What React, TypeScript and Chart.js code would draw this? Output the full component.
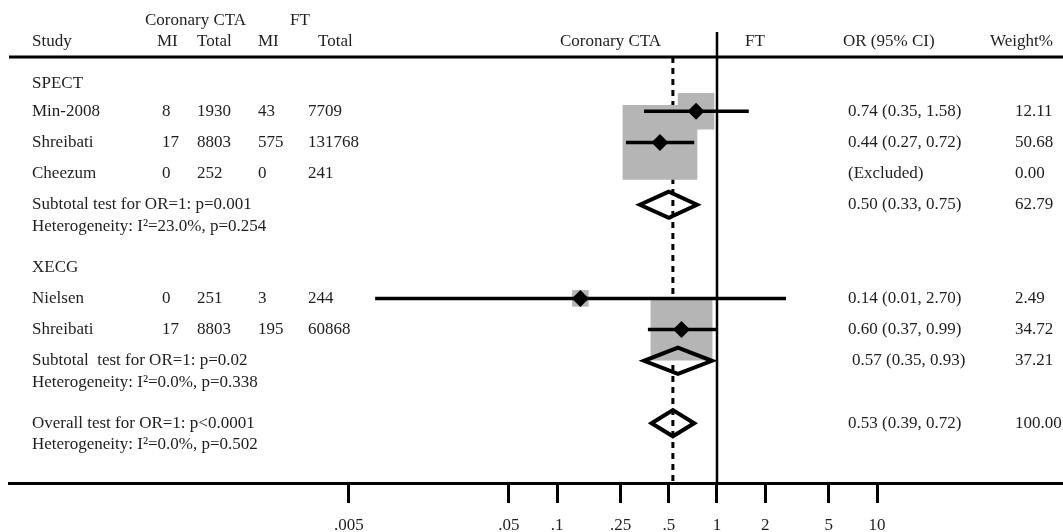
import React, { useEffect, useRef } from "react";
import { Chart, registerables } from "chart.js";

Chart.register(...registerables);

// ---------------- data ----------------
const groupNames = ["SPECT", "XECG"];
const studyNames = ["Min-2008", "Shreibati", "Cheezum", "Nielsen", "Shreibati"];
const cctaMI = [8, 17, 0, 0, 17];
const cctaTotal = [1930, 8803, 252, 251, 8803];
const ftMI = [43, 575, 0, 3, 195];
const ftTotal = [7709, 131768, 241, 244, 60868];
const studyOR: (number | null)[] = [0.74, 0.44, null, 0.14, 0.6];
const studyLow: (number | null)[] = [0.35, 0.27, null, 0.0073, 0.37];
const studyHigh: (number | null)[] = [1.58, 0.72, null, 2.7, 0.99];
const studyLabels = ["0.74 (0.35, 1.58)", "0.44 (0.27, 0.72)", "(Excluded)", "0.14 (0.01, 2.70)", "0.60 (0.37, 0.99)"];
const studyWeights = [12.11, 50.68, 0, 2.49, 34.72];
const studyWeightLabels = ["12.11", "50.68", "0.00", "2.49", "34.72"];

const summaryNames = ["Subtotal test for OR=1: p=0.001", "Subtotal  test for OR=1: p=0.02", "Overall test for OR=1: p<0.0001"];
const heterogeneity = ["Heterogeneity: I\u00B2=23.0%, p=0.254", "Heterogeneity: I\u00B2=0.0%, p=0.338", "Heterogeneity: I\u00B2=0.0%, p=0.502"];
const summaryOR = [0.5, 0.57, 0.53];
const summaryLow = [0.33, 0.35, 0.39];
const summaryHigh = [0.75, 0.93, 0.72];
const summaryLabels = ["0.50 (0.33, 0.75)", "0.57 (0.35, 0.93)", "0.53 (0.39, 0.72)"];
const summaryWeightLabels = ["62.79", "37.21", "100.00"];

const tickValues = [0.005, 0.05, 0.1, 0.25, 0.5, 1, 2, 5, 10];
const tickLabels = [".005", ".05", ".1", ".25", ".5", "1", "2", "5", "10"];

// ---------------- layout ----------------
const W = 1063;
const H = 532;
const FONT_FAMILY = '"Liberation Serif", "Times New Roman", serif';
const FONT = `17px ${FONT_FAMILY}`;
const TEXT = "#1e1e1e";
const GRAY = "#b5b5b5";

// row slots (vertical positions in row units)
const SLOT = { head1: -1.92, head2: -1.24, headLine: -0.74, refTop: -1.54 };
const groupSlot = [0.1, 6];
const studySlot = [1, 2, 3, 7, 8];
const summarySlot = [4, 9, 11];
const hetSlot = [4.7, 9.7, 11.7];
const Y_MIN = -2.564;
const Y_MAX = 12.917;

// column x positions
const COL = {
  label: 32, cctaMI: 162, cctaTotal: 197, ftMI: 258, ftTotal: 308,
  hCcta: 145, hFt: 290, hMI1: 157, hTot1: 197, hMI2: 258, hTot2: 318,
  rCcta: 560, rFt: 745, orHead: 843, or: 848, wHead: 990, w: 1015,
};
const X_MIN = Math.pow(10, -4.425);
const X_MAX = Math.pow(10, 2.1625);
const BOX_SCALE = 10.5;
const DIAMOND_HALF = 0.42;

const tablePlugin = {
  id: "forestTable",
  beforeDatasetsDraw(chart: any) {
    const ctx = chart.ctx;
    const y = chart.scales.y;
    const py = y.getPixelForValue(SLOT.headLine);
    ctx.save();
    ctx.strokeStyle = "#000";
    ctx.lineWidth = 3;
    ctx.beginPath();
    ctx.moveTo(chart.chartArea.left, py);
    ctx.lineTo(chart.chartArea.right, py);
    ctx.stroke();
    ctx.restore();
  },
  afterDatasetsDraw(chart: any) {
    const ctx = chart.ctx;
    const y = chart.scales.y;
    ctx.save();
    ctx.font = FONT;
    ctx.fillStyle = TEXT;
    ctx.textBaseline = "middle";
    ctx.textAlign = "left";
    const t = (s: string, x: number, slot: number) => ctx.fillText(s, x, y.getPixelForValue(slot));

    // headers
    t("Coronary CTA", COL.hCcta, SLOT.head1);
    t("FT", COL.hFt, SLOT.head1);
    t("Study", COL.label, SLOT.head2);
    t("MI", COL.hMI1, SLOT.head2);
    t("Total", COL.hTot1, SLOT.head2);
    t("MI", COL.hMI2, SLOT.head2);
    t("Total", COL.hTot2, SLOT.head2);
    t("Coronary CTA", COL.rCcta, SLOT.head2);
    t("FT", COL.rFt, SLOT.head2);
    t("OR (95% CI)", COL.orHead, SLOT.head2);
    t("Weight%", COL.wHead, SLOT.head2);

    groupNames.forEach((g, i) => t(g, COL.label, groupSlot[i]));
    studyNames.forEach((s, i) => {
      const sl = studySlot[i];
      t(s, COL.label, sl);
      t(String(cctaMI[i]), COL.cctaMI, sl);
      t(String(cctaTotal[i]), COL.cctaTotal, sl);
      t(String(ftMI[i]), COL.ftMI, sl);
      t(String(ftTotal[i]), COL.ftTotal, sl);
      t(studyLabels[i], COL.or, sl);
      t(studyWeightLabels[i], COL.w, sl);
    });
    summaryNames.forEach((s, k) => {
      t(s, COL.label, summarySlot[k]);
      t(heterogeneity[k], COL.label, hetSlot[k]);
      t(summaryLabels[k], COL.or + (k === 1 ? 4 : 0), summarySlot[k]);
      t(summaryWeightLabels[k], COL.w, summarySlot[k]);
    });
    ctx.restore();
  },
};

export default function App() {
  const ref = useRef<HTMLCanvasElement | null>(null);

  useEffect(() => {
    if (!ref.current) return;
    const plotted = studyOR
      .map((v, i) => ({ v, i }))
      .filter((d) => d.v !== null) as { v: number; i: number }[];

    const datasets: any[] = [];
    // dotted overall line
    datasets.push({
      type: "line",
      data: [
        { x: summaryOR[2], y: SLOT.headLine },
        { x: summaryOR[2], y: Y_MAX },
      ],
      borderColor: "#000",
      borderWidth: 3,
      borderDash: [6, 5],
      pointRadius: 0,
      showLine: true,
      fill: false,
      order: 6,
    });
    // weight boxes
    datasets.push({
      type: "scatter",
      data: plotted.map((d) => ({ x: d.v, y: studySlot[d.i] })),
      pointStyle: "rect",
      pointRadius: plotted.map((d) => (BOX_SCALE * Math.sqrt(studyWeights[d.i])) / Math.SQRT2),
      pointHoverRadius: plotted.map((d) => (BOX_SCALE * Math.sqrt(studyWeights[d.i])) / Math.SQRT2),
      backgroundColor: GRAY,
      borderWidth: 0,
      order: 5,
    });
    // reference line at OR = 1
    datasets.push({
      type: "line",
      data: [
        { x: 1, y: SLOT.refTop },
        { x: 1, y: Y_MAX },
      ],
      borderColor: "#000",
      borderWidth: 2.5,
      pointRadius: 0,
      showLine: true,
      fill: false,
      order: 4,
    });
    // CI lines
    plotted.forEach((d) => {
      datasets.push({
        type: "line",
        data: [
          { x: studyLow[d.i], y: studySlot[d.i] },
          { x: studyHigh[d.i], y: studySlot[d.i] },
        ],
        borderColor: "#000",
        borderWidth: 3.5,
        pointRadius: 0,
        showLine: true,
        fill: false,
        order: 3,
      });
    });
    // point estimates
    datasets.push({
      type: "scatter",
      data: plotted.map((d) => ({ x: d.v, y: studySlot[d.i] })),
      pointStyle: "rectRot",
      pointRadius: 8.5,
      pointHoverRadius: 8.5,
      backgroundColor: "#000",
      borderWidth: 0,
      order: 2,
    });
    // summary diamonds
    summaryOR.forEach((v, k) => {
      const s = summarySlot[k];
      datasets.push({
        type: "line",
        data: [
          { x: summaryLow[k], y: s },
          { x: v, y: s - DIAMOND_HALF },
          { x: summaryHigh[k], y: s },
          { x: v, y: s + DIAMOND_HALF },
          { x: summaryLow[k], y: s },
          { x: v, y: s - DIAMOND_HALF },
        ],
        borderColor: "#000",
        borderWidth: 4,
        borderJoinStyle: "miter",
        pointRadius: 0,
        showLine: true,
        fill: false,
        order: 1,
      });
    });

    const chart = new Chart(ref.current, {
      type: "scatter",
      data: { datasets },
      options: {
        animation: false,
        responsive: false,
        events: [],
        layout: { autoPadding: false, padding: { left: 9, right: 0, top: 0, bottom: -15.4 } },
        plugins: { legend: { display: false }, tooltip: { enabled: false } },
        scales: {
          x: {
            type: "logarithmic",
            min: X_MIN,
            max: X_MAX,
            afterBuildTicks: (scale: any) => {
              scale.ticks = tickValues.map((v) => ({ value: v }));
            },
            ticks: {
              autoSkip: false,
              maxRotation: 0,
              padding: 12,
              color: TEXT,
              font: { family: FONT_FAMILY, size: 17 },
              callback: (_v: any, i: number) => tickLabels[i],
            },
            grid: {
              display: true,
              drawOnChartArea: false,
              drawTicks: true,
              tickLength: 20,
              tickWidth: 3,
              tickColor: "#000",
              color: "#000",
            },
            border: { display: true, color: "#000", width: 3 },
          },
          y: {
            type: "linear",
            display: false,
            reverse: true,
            min: Y_MIN,
            max: Y_MAX,
          },
        },
      } as any,
      plugins: [tablePlugin],
    });
    return () => chart.destroy();
  }, []);

  return (
    <div style={{ position: "fixed", left: 0, top: 0, width: W, height: H, background: "#fff" }}>
      <canvas ref={ref} width={W} height={H} style={{ display: "block" }} />
    </div>
  );
}
